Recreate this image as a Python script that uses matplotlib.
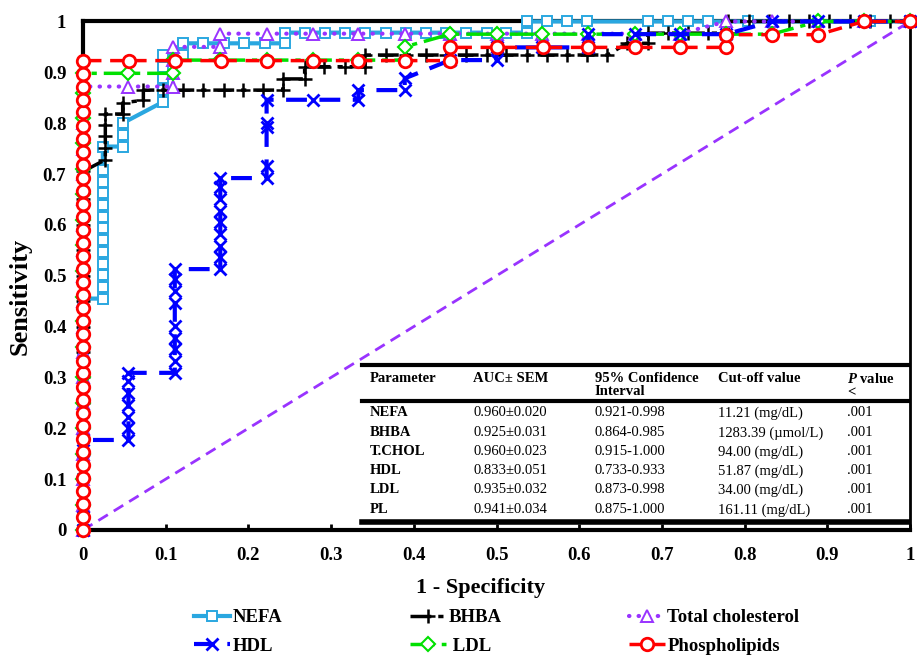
import matplotlib.pyplot as plt

plt.rcParams['font.family'] = 'Liberation Serif'
plt.rcParams['mathtext.fontset'] = 'custom'
plt.rcParams['mathtext.it'] = 'Liberation Serif:italic:bold'
plt.rcParams['mathtext.rm'] = 'Liberation Serif:bold'

# ROC curves, (1 - specificity, sensitivity) points
nefa_x = [0, 0, 0, 0, 0, 0, 0, 0, 0, 0,
          0.024, 0.024, 0.024, 0.024, 0.024, 0.024, 0.024, 0.024, 0.024, 0.024, 0.024, 0.024, 0.024,
          0.048, 0.048, 0.048,
          0.097, 0.097, 0.097, 0.097, 0.097, 0.121, 0.121,
          0.145, 0.17, 0.195, 0.22, 0.244, 0.244,
          0.268, 0.293, 0.317, 0.341, 0.366, 0.39, 0.415, 0.439, 0.463, 0.488, 0.512, 0.537,
          0.537, 0.561, 0.585, 0.61, 0.683, 0.707, 0.732, 0.756, 0.804, 0.951, 1.0]
nefa_y = [0, 0.05, 0.1, 0.15, 0.2, 0.25, 0.3, 0.35, 0.4, 0.455,
          0.455, 0.478, 0.501, 0.524, 0.547, 0.57, 0.593, 0.616, 0.639, 0.662, 0.685, 0.708, 0.754,
          0.754, 0.777, 0.8,
          0.842, 0.865, 0.888, 0.911, 0.934, 0.934, 0.957,
          0.957, 0.957, 0.957, 0.957, 0.957, 0.978,
          0.978, 0.978, 0.978, 0.978, 0.978, 0.978, 0.978, 0.978, 0.978, 0.978, 0.978, 0.978,
          1.0, 1.0, 1.0, 1.0, 1.0, 1.0, 1.0, 1.0, 1.0, 1.0, 1.0]

bhba_x = [0, 0, 0, 0, 0, 0, 0, 0, 0, 0, 0, 0, 0, 0, 0,
          0.027, 0.027, 0.027, 0.027, 0.027, 0.048, 0.048, 0.073, 0.073,
          0.097, 0.121, 0.145, 0.17, 0.194, 0.218, 0.242, 0.242, 0.268, 0.268,
          0.292, 0.317, 0.341, 0.341,
          0.366, 0.39, 0.415, 0.439, 0.463, 0.488, 0.512, 0.537, 0.561, 0.585, 0.61, 0.634,
          0.658, 0.683, 0.683, 0.707, 0.732, 0.756, 0.78, 0.78,
          0.805, 0.829, 0.854, 0.878, 0.902, 0.927, 0.951, 0.976, 1.0]
bhba_y = [0, 0.05, 0.1, 0.15, 0.2, 0.25, 0.3, 0.35, 0.4, 0.45, 0.5, 0.55, 0.6, 0.65, 0.705,
          0.728, 0.751, 0.774, 0.797, 0.818, 0.818, 0.84, 0.845, 0.865,
          0.865, 0.865, 0.865, 0.865, 0.865, 0.865, 0.865, 0.887, 0.887, 0.911,
          0.911, 0.911, 0.911, 0.934,
          0.934, 0.934, 0.934, 0.934, 0.934, 0.934, 0.934, 0.934, 0.934, 0.934, 0.934, 0.934,
          0.957, 0.957, 0.977, 0.977, 0.977, 0.977, 0.977, 1.0,
          1.0, 1.0, 1.0, 1.0, 1.0, 1.0, 1.0, 1.0, 1.0]

tc_x = [0, 0, 0, 0, 0, 0, 0, 0, 0, 0, 0, 0, 0, 0, 0, 0, 0, 0,
        0.055, 0.109, 0.109, 0.109, 0.109, 0.166, 0.166,
        0.222, 0.278, 0.333, 0.389, 0.444, 0.5, 0.555, 0.611, 0.667, 0.722,
        0.778, 0.833, 0.889, 0.944, 1.0]
tc_y = [0, 0.05, 0.1, 0.15, 0.2, 0.25, 0.3, 0.35, 0.4, 0.45, 0.5, 0.55, 0.6, 0.65, 0.7, 0.75, 0.8, 0.872,
        0.872, 0.872, 0.898, 0.924, 0.95, 0.95, 0.976,
        0.976, 0.976, 0.976, 0.976, 0.976, 0.976, 0.976, 0.976, 0.976, 0.976,
        1.0, 1.0, 1.0, 1.0, 1.0]

ldl_x = [0, 0, 0, 0, 0, 0, 0, 0, 0, 0, 0, 0, 0, 0, 0, 0, 0, 0, 0,
         0.055, 0.109, 0.109, 0.166, 0.222, 0.278, 0.333, 0.389, 0.389,
         0.444, 0.5, 0.555, 0.611, 0.667, 0.722, 0.778, 0.833,
         0.889, 0.944, 1.0]
ldl_y = [0, 0.05, 0.1, 0.15, 0.2, 0.25, 0.3, 0.36, 0.41, 0.458, 0.51, 0.56, 0.61, 0.66, 0.71, 0.76, 0.81, 0.86, 0.898,
         0.898, 0.898, 0.924, 0.924, 0.924, 0.924, 0.924, 0.924, 0.95,
         0.975, 0.975, 0.975, 0.975, 0.975, 0.975, 0.975, 0.975,
         1.0, 1.0, 1.0]

hdl_x = [0, 0, 0, 0, 0,
         0.055, 0.055, 0.055, 0.055, 0.055, 0.055, 0.055,
         0.111, 0.111, 0.111, 0.111, 0.111, 0.111, 0.111, 0.111, 0.111,
         0.166, 0.166, 0.166, 0.166, 0.166, 0.166, 0.166, 0.166, 0.166,
         0.222, 0.222, 0.222, 0.222, 0.222,
         0.278, 0.333, 0.333, 0.389, 0.389, 0.444, 0.5, 0.5, 0.555, 0.611, 0.611,
         0.667, 0.722, 0.778, 0.833, 0.889, 0.944, 1.0]
hdl_y = [0, 0.045, 0.09, 0.135, 0.177,
         0.177, 0.2, 0.223, 0.246, 0.269, 0.292, 0.309,
         0.309, 0.332, 0.355, 0.378, 0.401, 0.447, 0.47, 0.493, 0.513,
         0.513, 0.536, 0.559, 0.582, 0.605, 0.628, 0.651, 0.674, 0.692,
         0.692, 0.715, 0.792, 0.8, 0.846,
         0.846, 0.846, 0.865, 0.865, 0.888, 0.924, 0.924, 0.949, 0.949, 0.949, 0.975,
         0.975, 0.975, 0.975, 1.0, 1.0, 1.0, 1.0]

pl_x = [0, 0, 0, 0, 0, 0, 0, 0, 0, 0, 0, 0, 0, 0, 0, 0, 0, 0, 0,
        0, 0, 0, 0, 0, 0, 0, 0, 0, 0, 0, 0, 0, 0, 0, 0, 0, 0,
        0.056, 0.111, 0.167, 0.222, 0.278, 0.333, 0.389, 0.444, 0.444,
        0.5, 0.556, 0.611, 0.667, 0.722, 0.778, 0.778, 0.833, 0.889, 0.944, 1.0]
pl_y = [0, 0.026, 0.051, 0.077, 0.103, 0.128, 0.154, 0.179, 0.205, 0.231, 0.256, 0.282, 0.308,
        0.333, 0.359, 0.385, 0.41, 0.436, 0.462, 0.487, 0.513, 0.538, 0.564, 0.59, 0.615,
        0.641, 0.667, 0.692, 0.718, 0.744, 0.769, 0.795, 0.821, 0.846, 0.872, 0.897, 0.923,
        0.923, 0.923, 0.923, 0.923, 0.923, 0.923, 0.923, 0.923, 0.949,
        0.949, 0.949, 0.949, 0.949, 0.949, 0.949, 0.974, 0.974, 0.974, 1.0, 1.0]

ref_x = [0, 1]
ref_y = [0, 1]

# table inside the plot
tbl_head = ['Parameter', 'AUC\u00b1 SEM', '95% Confidence\nInterval', 'Cut-off value', '$P$ value\n<']
tbl_param = ['NEFA', 'BHBA', 'T.CHOL', 'HDL', 'LDL', 'PL']
tbl_auc = ['0.960\u00b10.020', '0.925\u00b10.031', '0.960\u00b10.023', '0.833\u00b10.051', '0.935\u00b10.032', '0.941\u00b10.034']
tbl_ci = ['0.921-0.998', '0.864-0.985', '0.915-1.000', '0.733-0.933', '0.873-0.998', '0.875-1.000']
tbl_cut = ['11.21 (mg/dL)', '1283.39 (\u00b5mol/L)', '94.00 (mg/dL)', '51.87 (mg/dL)', '34.00 (mg/dL)', '161.11 (mg/dL)']
tbl_p = ['.001', '.001', '.001', '.001', '.001', '.001']

fig = plt.figure(figsize=(9.17, 6.6), dpi=100)
ax = fig.add_axes([0.0905, 0.197, 0.9019, 0.7705])

ax.plot(ref_x, ref_y, color='#9933FF', lw=2, dashes=(4, 2.5), zorder=2)

l_nefa, = ax.plot(nefa_x, nefa_y, color='#2AA7E0', lw=3, marker='s', ms=7, mfc='white', mew=1.4,
                  label='NEFA', clip_on=False, zorder=4)
l_bhba, = ax.plot(bhba_x, bhba_y, color='black', lw=2.5, dashes=(6, 2, 1.5, 2), marker='+', ms=10, mew=1.8,
                  label='BHBA', clip_on=False, zorder=5)
l_tc, = ax.plot(tc_x, tc_y, color='#9933FF', lw=3, dashes=(0.1, 2.2), dash_capstyle='round', marker='^', ms=9,
                mfc='white', mew=1.4, label='Total cholesterol', clip_on=False, zorder=6)
l_ldl, = ax.plot(ldl_x, ldl_y, color='#00E000', lw=2.5, dashes=(7, 2, 1.5, 2), marker='D', ms=7, mfc='white',
                 mew=1.5, label=' LDL', clip_on=False, zorder=7)
l_hdl, = ax.plot(hdl_x, hdl_y, color='#0000FF', lw=3, dashes=(5, 3), marker='x', ms=9, mew=2,
                 label='HDL', clip_on=False, zorder=8)
l_pl, = ax.plot(pl_x, pl_y, color='#FF0000', lw=2.5, dashes=(4, 2.5), marker='o', ms=9, mfc='white', mew=2,
                label='Phospholipids', clip_on=False, zorder=9)

ax.set_xlim(0, 1)
ax.set_ylim(0, 1)
ax.set_xticks([0, 0.1, 0.2, 0.3, 0.4, 0.5, 0.6, 0.7, 0.8, 0.9, 1])
ax.set_xticklabels(['0', '0.1', '0.2', '0.3', '0.4', '0.5', '0.6', '0.7', '0.8', '0.9', '1'])
ax.set_yticks([0, 0.1, 0.2, 0.3, 0.4, 0.5, 0.6, 0.7, 0.8, 0.9, 1])
ax.set_yticklabels(['0', '0.1', '0.2', '0.3', '0.4', '0.5', '0.6', '0.7', '0.8', '0.9', '1'])
ax.tick_params(direction='in', length=4, width=2, labelsize=13.5, pad=12)
for lab in ax.get_xticklabels() + ax.get_yticklabels():
    lab.set_fontweight('bold')
for side in ['left', 'bottom', 'top']:
    ax.spines[side].set_linewidth(3)
ax.spines['right'].set_linewidth(2)
for sp in ax.spines.values():
    sp.set_zorder(1)

ax.set_xlabel('1 - Specificity', fontsize=16, fontweight='bold')
ax.xaxis.set_label_coords(0.481, -0.094)
ax.set_ylabel('Sensitivity', fontsize=19, fontweight='bold')
ax.yaxis.set_label_coords(-0.062, 0.46)

# table
col_x = [0.347, 0.4716, 0.619, 0.768, 0.924]
row_y = [0.2301, 0.1908, 0.1534, 0.116, 0.0787, 0.0393]
for cx, h in zip(col_x, tbl_head):
    ax.text(cx, 0.3115, h, transform=ax.transAxes, fontsize=10.5, fontweight='bold', va='top',
            linespacing=1.05)
for ry, a, b, c, d, e in zip(row_y, tbl_param, tbl_auc, tbl_ci, tbl_cut, tbl_p):
    ax.text(col_x[0], ry, a, transform=ax.transAxes, fontsize=10.5, fontweight='bold', va='center')
    for cx, s in zip(col_x[1:], [b, c, d, e]):
        ax.text(cx, ry, s, transform=ax.transAxes, fontsize=10.5, va='center')
for ly, lw in [(0.3245, 3), (0.2537, 3), (0.0157, 4)]:
    ax.plot([0.337, 0.998], [ly, ly], transform=ax.transAxes, color='black', lw=lw, clip_on=False)

fig.legend(handles=[l_nefa, l_hdl, l_bhba, l_ldl, l_tc, l_pl], ncol=3, loc='center',
           bbox_to_anchor=(0.542, 0.0424), frameon=False, prop={'weight': 'bold', 'size': 13.5},
           handlelength=1.9, handletextpad=0.15, columnspacing=6.8, labelspacing=0.6)

fig.savefig('out.png', dpi=100)
